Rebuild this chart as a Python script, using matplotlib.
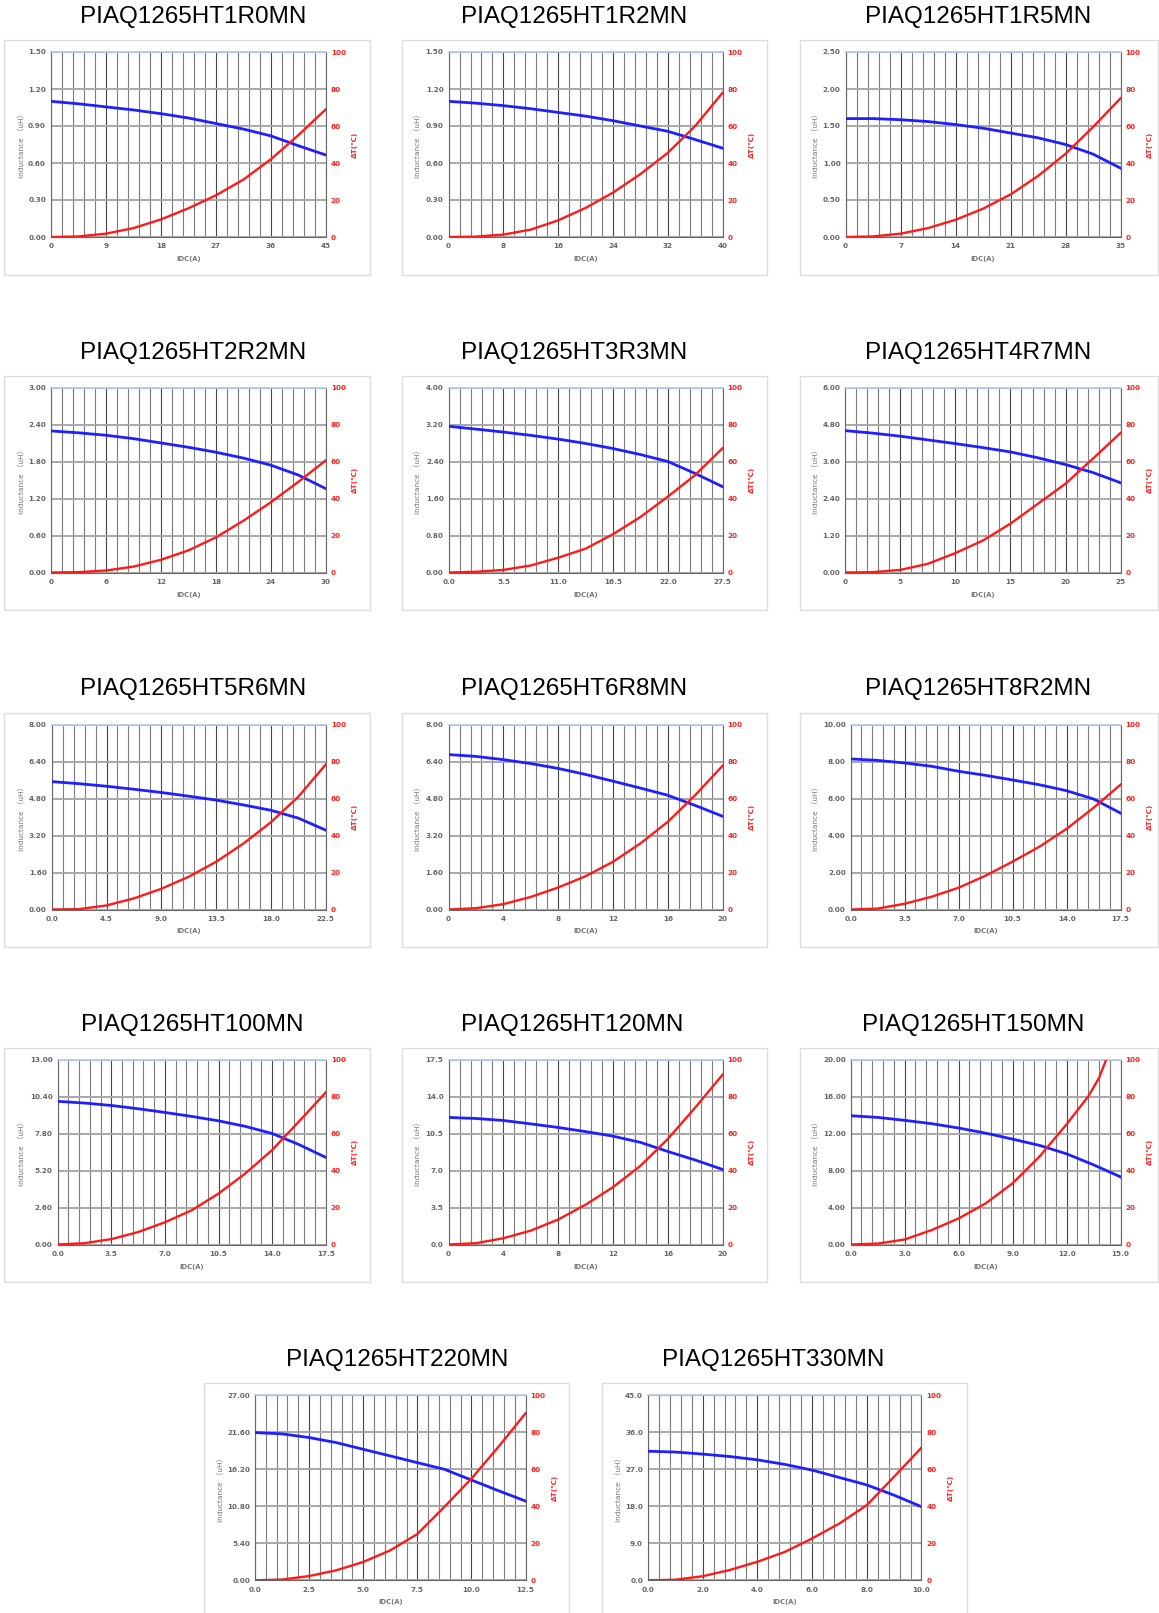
import numpy as np
import matplotlib.pyplot as plt
from matplotlib.patches import Rectangle

plt.rcParams['font.family'] = ['DejaVu Sans', 'Noto Sans CJK SC']

W, H = 1159, 1613

# part names and axis ranges, one entry per chart
parts = ['PIAQ1265HT1R0MN', 'PIAQ1265HT1R2MN', 'PIAQ1265HT1R5MN',
         'PIAQ1265HT2R2MN', 'PIAQ1265HT3R3MN', 'PIAQ1265HT4R7MN',
         'PIAQ1265HT5R6MN', 'PIAQ1265HT6R8MN', 'PIAQ1265HT8R2MN',
         'PIAQ1265HT100MN', 'PIAQ1265HT120MN', 'PIAQ1265HT150MN',
         'PIAQ1265HT220MN', 'PIAQ1265HT330MN']
idc_max = [45, 40, 35, 30, 27.5, 25, 22.5, 20, 17.5, 17.5, 20, 15, 12.5, 10]
ind_max = [1.5, 1.5, 2.5, 3, 4, 6, 8, 8, 10, 13, 17.5, 20, 27, 45]
idc_fmt = ['%d', '%d', '%d', '%d', '%.1f', '%d', '%.1f', '%d', '%.1f',
           '%.1f', '%d', '%.1f', '%.1f', '%.1f']
ind_fmt = ['%.2f'] * 10 + ['%.1f', '%.2f', '%.2f', '%.1f']

# IDC(A), inductance (uH), temperature rise (C)
idc_1r0 = [0, 4.5, 9, 13.5, 18, 22.5, 27, 31.5, 36, 40.5, 45]
l_1r0 = [1.10, 1.08, 1.055, 1.03, 1.00, 0.965, 0.92, 0.875, 0.82, 0.74, 0.665]
t_1r0 = [0, 0.3, 1.8, 4.8, 9.5, 15.5, 22.5, 31, 42, 55, 69]

idc_1r2 = [0, 4, 8, 12, 16, 20, 24, 28, 32, 36, 40]
l_1r2 = [1.10, 1.085, 1.065, 1.04, 1.01, 0.98, 0.943, 0.90, 0.857, 0.79, 0.72]
t_1r2 = [0, 0.2, 1.3, 4, 9, 15.7, 24, 34, 45.5, 60, 78]

idc_1r5 = [0, 3.5, 7, 10.5, 14, 17.5, 21, 24.5, 28, 31.5, 35]
l_1r5 = [1.60, 1.60, 1.585, 1.56, 1.52, 1.47, 1.405, 1.34, 1.25, 1.12, 0.93]
t_1r5 = [0, 0.3, 1.8, 4.8, 9.3, 15.3, 23, 33, 45, 59.5, 75]

idc_2r2 = [0, 3, 6, 9, 12, 15, 18, 21, 24, 27, 30]
l_2r2 = [2.295, 2.265, 2.225, 2.17, 2.10, 2.03, 1.95, 1.855, 1.74, 1.58, 1.36]
t_2r2 = [0, 0.2, 1.1, 3.2, 6.9, 12, 19, 28, 38, 49, 60.6]

idc_3r3 = [0, 2.75, 5.5, 8.25, 11, 13.75, 16.5, 19.25, 22, 24.75, 27.5]
l_3r3 = [3.16, 3.10, 3.036, 2.965, 2.884, 2.79, 2.68, 2.55, 2.40, 2.14, 1.855]
t_3r3 = [0, 0.4, 1.4, 3.8, 8, 12.9, 20.7, 30, 41, 52.7, 67.2]

idc_4r7 = [0, 2.5, 5, 7.5, 10, 12.5, 15, 17.5, 20, 22.5, 25]
l_4r7 = [4.60, 4.52, 4.42, 4.30, 4.18, 4.05, 3.91, 3.72, 3.50, 3.24, 2.91]
t_4r7 = [0, 0.2, 1.4, 4.7, 10.5, 17.3, 26.4, 37.2, 48, 61.6, 75.5]

idc_5r6 = [0, 2.25, 4.5, 6.75, 9, 11.25, 13.5, 15.75, 18, 20.25, 22.5]
l_5r6 = [5.53, 5.44, 5.33, 5.20, 5.06, 4.90, 4.73, 4.52, 4.29, 3.95, 3.43]
t_5r6 = [0, 0.2, 2.2, 6, 11.2, 17.7, 25.8, 35.7, 47.2, 61, 78.4]

idc_6r8 = [0, 2, 4, 6, 8, 10, 12, 14, 16, 18, 20]
l_6r8 = [6.70, 6.62, 6.48, 6.31, 6.10, 5.84, 5.55, 5.25, 4.94, 4.50, 4.03]
t_6r8 = [0, 0.7, 2.9, 6.8, 11.9, 18, 25.8, 35.7, 47.4, 61.8, 77.7]

idc_8r2 = [0, 1.75, 3.5, 5.25, 7, 8.75, 10.5, 12.25, 14, 15.75, 17.5]
l_8r2 = [8.14, 8.06, 7.92, 7.74, 7.47, 7.25, 7.00, 6.74, 6.42, 5.97, 5.21]
t_8r2 = [0, 0.5, 3.1, 6.9, 11.8, 18.3, 25.9, 34, 43.6, 55, 67.5]

idc_100 = [0, 1.75, 3.5, 5.25, 7, 8.75, 10.5, 12.25, 14, 15.75, 17.5]
l_100 = [10.06, 9.94, 9.77, 9.54, 9.28, 9.00, 8.69, 8.30, 7.80, 7.02, 6.12]
t_100 = [0, 0.7, 2.9, 6.7, 12, 18.5, 27.5, 38.4, 51.1, 66.5, 82.2]

idc_120 = [0, 2, 4, 6, 8, 10, 12, 14, 16, 18, 20]
l_120 = [12.02, 11.92, 11.73, 11.41, 11.07, 10.68, 10.25, 9.66, 8.80, 7.99, 7.10]
t_120 = [0, 0.7, 3.4, 7.5, 13.5, 21.5, 31, 42.5, 57, 74, 91.8]

idc_150 = [0, 1.5, 3, 4.5, 6, 7.5, 9, 10.5, 12, 13.5, 15]
l_150 = [13.92, 13.74, 13.42, 13.06, 12.59, 12.04, 11.39, 10.71, 9.80, 8.61, 7.31]
idc_150t = [0, 1.5, 3, 4.5, 6, 7.5, 9, 10.5, 12, 13.2, 13.8, 14.2]
t_150 = [0, 0.5, 2.7, 7.8, 14.1, 22.2, 33.1, 47.6, 65, 80, 90, 100]

idc_220 = [0, 1.25, 2.5, 3.75, 5, 6.25, 7.5, 8.75, 10, 11.25, 12.5]
l_220 = [21.56, 21.37, 20.83, 20.1, 19.12, 18.15, 17.17, 16.2, 14.63, 13.07, 11.56]
t_220 = [0, 0.4, 2.3, 5.4, 9.9, 16.2, 25, 39.7, 55, 72.2, 90.3]

idc_330 = [0, 1, 2, 3, 4, 5, 6, 7, 8, 9, 10]
l_330 = [31.4, 31.2, 30.7, 30.1, 29.3, 28.2, 26.8, 25.0, 23.2, 20.7, 17.9]
t_330 = [0, 0.3, 2.2, 5.6, 10, 15.3, 22.6, 30.7, 40.6, 56, 71.7]

curves = [(idc_1r0, l_1r0, idc_1r0, t_1r0), (idc_1r2, l_1r2, idc_1r2, t_1r2),
          (idc_1r5, l_1r5, idc_1r5, t_1r5), (idc_2r2, l_2r2, idc_2r2, t_2r2),
          (idc_3r3, l_3r3, idc_3r3, t_3r3), (idc_4r7, l_4r7, idc_4r7, t_4r7),
          (idc_5r6, l_5r6, idc_5r6, t_5r6), (idc_6r8, l_6r8, idc_6r8, t_6r8),
          (idc_8r2, l_8r2, idc_8r2, t_8r2), (idc_100, l_100, idc_100, t_100),
          (idc_120, l_120, idc_120, t_120), (idc_150, l_150, idc_150t, t_150),
          (idc_220, l_220, idc_220, t_220), (idc_330, l_330, idc_330, t_330)]

# layout in pixels
row_top = [52, 387.5, 724.5, 1059.5, 1395.3]
ph = 185
plot_left = [51, 448.6, 845.5, 51.4, 448.7, 845.3, 51.7, 448.6, 850.7,
             57.6, 448.6, 850.7, 255, 647.9]
col_right = [325.8, 722.6, 1120.6]
col_box = [(4, 370), (402, 767), (800, 1158)]
col_ylab = [21.7, 418, 816]
title_x = [193.3, 573.9, 978.0, 193.3, 573.9, 978.0, 193.3, 573.9, 978.0,
           192.3, 571.8, 972.9, 397, 773.4]

fig = plt.figure(figsize=(W / 100, H / 100), dpi=100)
fig.patch.set_facecolor('white')

for i, name in enumerate(parts):
    row, col = divmod(i, 3)
    top = row_top[row]
    if row < 4:
        right = col_right[col]
        bx0, bx1 = col_box[col]
        ylab_x = col_ylab[col]
    else:
        right = [525.6, 921.5][col]
        bx0, bx1 = [(203.6, 568.5), (601.7, 966.7)][col]
        ylab_x = [220.6, 618.5][col]
    left = plot_left[i]

    # panel frame
    fig.add_artist(Rectangle((bx0 / W, 1 - (top + ph + 37.5) / H),
                             (bx1 - bx0) / W, (ph + 49.5) / H,
                             transform=fig.transFigure, fill=False,
                             edgecolor='#dddddd', lw=1))

    ax = fig.add_axes([left / W, 1 - (top + ph) / H, (right - left) / W, ph / H])
    xm, ym = idc_max[i], ind_max[i]
    ax.set_xlim(0, xm)
    ax.set_ylim(0, ym)
    ax.set_xticks(np.linspace(0, xm, 6))
    ax.set_xticks(np.linspace(0, xm, 26), minor=True)
    ax.set_yticks(np.linspace(0, ym, 6))
    ax.set_xticklabels([idc_fmt[i] % v for v in np.linspace(0, xm, 6)])
    ax.set_yticklabels([ind_fmt[i] % v for v in np.linspace(0, ym, 6)])
    ax.grid(axis='x', which='major', color='#444444', lw=0.8)
    ax.grid(axis='x', which='minor', color='#7c7c7c', lw=0.8)
    ax.grid(axis='y', which='major', color='#a8a8a8', lw=1.4)
    ax.set_axisbelow(True)
    ax.tick_params(which='both', length=0, labelsize=5.2, labelcolor='#666666')
    ax.tick_params(axis='x', pad=4.5)
    ax.tick_params(axis='y', pad=3.6)
    for lab in ax.get_xticklabels() + ax.get_yticklabels():
        lab.set_fontweight('bold')
    for s in ['left', 'right', 'bottom']:
        ax.spines[s].set_color('#666666')
        ax.spines[s].set_linewidth(0.8)
    ax.spines['top'].set_color('#b0c8e8')
    ax.spines['top'].set_linewidth(1.2)

    xl, lv, xt, tv = curves[i]
    ax.plot(xl, lv, color='#1f1fff', lw=2.0, zorder=3)

    ax2 = ax.twinx()
    ax2.set_ylim(0, 100)
    ax2.set_yticks(range(0, 101, 20))
    ax2.tick_params(length=0, labelsize=5.2, labelcolor='#ff2020', pad=3.6)
    for lab in ax2.get_yticklabels():
        lab.set_fontweight('bold')
    for s in ax2.spines.values():
        s.set_visible(False)
    ax2.plot(xt, tv, color='#ff1a1a', lw=1.7, zorder=3)

    # labels and title
    cy = 1 - (top + ph / 2) / H
    fig.text(ylab_x / W, cy, 'Inductance （uH）', rotation=90, ha='center',
             va='center', fontsize=5.3, color='#777777')
    fig.text((right + 29) / W, cy, 'ΔT(℃)', rotation=90, ha='center',
             va='center', fontsize=5.2, color='#ff2020', fontweight='bold')
    fig.text((left + right) / 2 / W, 1 - (top + ph + 22) / H, 'IDC(A)',
             ha='center', va='center', fontsize=4.9, color='#777777',
             fontweight='bold')
    fig.text(title_x[i] / W, 1 - (top - 35) / H, name, ha='center',
             va='center', fontsize=17.5, family='Liberation Sans', color='black')

fig.savefig('out.png', dpi=100)
